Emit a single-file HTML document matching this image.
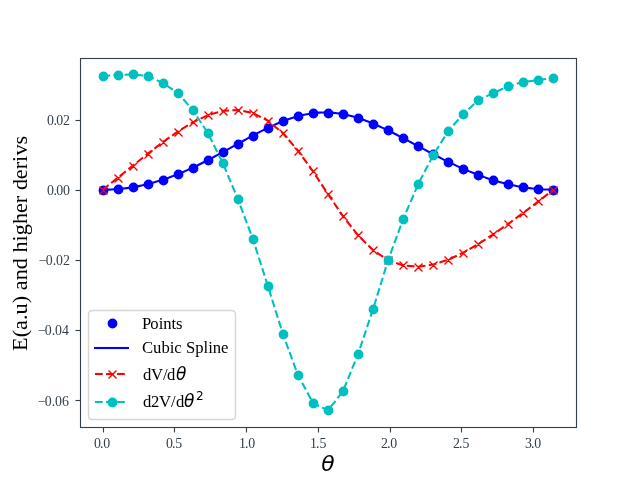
<!DOCTYPE html>
<html lang="en"><head><meta charset="utf-8"><title>E(a.u) and higher derivs</title>
<style>html,body{margin:0;padding:0;background:#fff;overflow:hidden}svg{display:block}</style>
</head><body>
<svg width="640" height="480" viewBox="0 0 640 480" role="img" aria-label="Plot of E(a.u) and higher derivs against theta">
<rect width="640" height="480" fill="#fff"/>
<defs><clipPath id="ax"><rect x="80" y="57.6" width="496" height="369.6"/></clipPath></defs>
<g clip-path="url(#ax)">
<g fill="#0000ff" stroke="#0000ff" stroke-width="1.389">
<circle cx="103.5" cy="190.5" r="4.212"/>
<circle cx="118.5" cy="189.5" r="4.212"/>
<circle cx="133.5" cy="187.5" r="4.212"/>
<circle cx="148.5" cy="184.5" r="4.212"/>
<circle cx="163.5" cy="180.5" r="4.212"/>
<circle cx="178.5" cy="174.5" r="4.212"/>
<circle cx="193.5" cy="168.5" r="4.212"/>
<circle cx="208.5" cy="160.5" r="4.212"/>
<circle cx="223.5" cy="152.5" r="4.212"/>
<circle cx="238.5" cy="144.5" r="4.212"/>
<circle cx="253.5" cy="136.5" r="4.212"/>
<circle cx="268.5" cy="128.5" r="4.212"/>
<circle cx="283.5" cy="121.5" r="4.212"/>
<circle cx="298.5" cy="116.5" r="4.212"/>
<circle cx="313.5" cy="113.5" r="4.212"/>
<circle cx="328.5" cy="113.5" r="4.212"/>
<circle cx="343.5" cy="114.5" r="4.212"/>
<circle cx="358.5" cy="118.5" r="4.212"/>
<circle cx="373.5" cy="124.5" r="4.212"/>
<circle cx="388.5" cy="130.5" r="4.212"/>
<circle cx="403.5" cy="138.5" r="4.212"/>
<circle cx="418.5" cy="146.5" r="4.212"/>
<circle cx="433.5" cy="154.5" r="4.212"/>
<circle cx="448.5" cy="162.5" r="4.212"/>
<circle cx="463.5" cy="169.5" r="4.212"/>
<circle cx="478.5" cy="175.5" r="4.212"/>
<circle cx="493.5" cy="180.5" r="4.212"/>
<circle cx="508.5" cy="184.5" r="4.212"/>
<circle cx="523.5" cy="187.5" r="4.212"/>
<circle cx="538.5" cy="189.5" r="4.212"/>
<circle cx="553.5" cy="190.5" r="4.212"/>
</g>
<path d="M102.55 189.70L105.55 189.68L108.56 189.61L111.56 189.49L114.57 189.31L117.58 189.09L120.58 188.82L123.59 188.50L126.59 188.12L129.60 187.70L132.61 187.22L135.61 186.70L138.62 186.12L141.62 185.50L144.63 184.82L147.64 184.10L150.64 183.32L153.65 182.50L156.65 181.62L159.66 180.70L162.67 179.73L165.67 178.72L168.68 177.66L171.68 176.55L174.69 175.40L177.70 174.20L180.70 172.97L183.71 171.69L186.72 170.37L189.72 169.02L192.73 167.63L195.73 166.20L198.74 164.74L201.75 163.25L204.75 161.73L207.76 160.19L210.76 158.62L213.77 157.02L216.78 155.41L219.78 153.78L222.79 152.14L225.79 150.48L228.80 148.82L231.81 147.15L234.81 145.48L237.82 143.81L240.82 142.14L243.83 140.48L246.84 138.84L249.84 137.20L252.85 135.59L255.85 133.99L258.86 132.43L261.87 130.89L264.87 129.39L267.88 127.92L270.88 126.50L273.89 125.12L276.90 123.79L279.90 122.52L282.91 121.31L285.92 120.16L288.92 119.08L291.93 118.07L294.93 117.13L297.94 116.27L300.95 115.49L303.95 114.80L306.96 114.19L309.96 113.67L312.97 113.24L315.98 112.90L318.98 112.66L321.99 112.52L324.99 112.46L328.00 112.51L331.01 112.65L334.01 112.89L337.02 113.22L340.02 113.64L343.03 114.15L346.04 114.75L349.04 115.44L352.05 116.20L355.05 117.05L358.06 117.97L361.07 118.96L364.07 120.02L367.08 121.15L370.08 122.33L373.09 123.58L376.10 124.87L379.10 126.21L382.11 127.60L385.12 129.02L388.12 130.48L391.13 131.98L394.13 133.49L397.14 135.04L400.15 136.60L403.15 138.18L406.16 139.77L409.16 141.37L412.17 142.98L415.18 144.60L418.18 146.21L421.19 147.82L424.19 149.43L427.20 151.03L430.21 152.61L433.21 154.19L436.22 155.75L439.22 157.29L442.23 158.82L445.24 160.32L448.24 161.80L451.25 163.25L454.25 164.68L457.26 166.08L460.27 167.44L463.27 168.78L466.28 170.08L469.28 171.35L472.29 172.58L475.30 173.78L478.30 174.94L481.31 176.05L484.32 177.13L487.32 178.17L490.33 179.17L493.33 180.12L496.34 181.04L499.35 181.90L502.35 182.73L505.36 183.51L508.36 184.25L511.37 184.94L514.38 185.59L517.38 186.19L520.39 186.74L523.39 187.24L526.40 187.70L529.41 188.12L532.41 188.48L535.42 188.80L538.42 189.06L541.43 189.28L544.44 189.46L547.44 189.58L550.45 189.65L553.45 189.68" fill="none" stroke="#0000ff" stroke-width="2.083" stroke-linejoin="round" stroke-linecap="square"/>
<path d="M102.55 189.82L117.58 177.86L132.61 165.82L147.64 153.83L162.67 142.29L177.70 131.63L192.73 122.39L207.76 115.25L222.79 110.89L237.82 109.98L252.85 113.05L267.88 120.67L282.91 133.27L297.94 150.53L312.97 171.40L328.00 194.13L343.03 216.23L358.06 235.38L373.09 250.24L388.12 260.18L403.15 265.41L418.18 266.67L433.21 264.57L448.24 259.69L463.27 252.66L478.30 244.01L493.33 234.26L508.36 223.77L523.39 212.71L538.42 201.33L553.45 189.74" fill="none" stroke="#ff0000" stroke-width="2.083" stroke-linejoin="round" stroke-dasharray="7.7083 3.3333"/>
<path d="M99.5 186.5l8 8m0 -8l-8 8M114.5 174.5l8 8m0 -8l-8 8M129.5 162.5l8 8m0 -8l-8 8M144.5 150.5l8 8m0 -8l-8 8M159.5 138.5l8 8m0 -8l-8 8M174.5 128.5l8 8m0 -8l-8 8M189.5 118.5l8 8m0 -8l-8 8M204.5 111.5l8 8m0 -8l-8 8M219.5 107.5l8 8m0 -8l-8 8M234.5 106.5l8 8m0 -8l-8 8M249.5 109.5l8 8m0 -8l-8 8M264.5 117.5l8 8m0 -8l-8 8M279.5 129.5l8 8m0 -8l-8 8M294.5 147.5l8 8m0 -8l-8 8M309.5 167.5l8 8m0 -8l-8 8M324.5 190.5l8 8m0 -8l-8 8M339.5 212.5l8 8m0 -8l-8 8M354.5 231.5l8 8m0 -8l-8 8M369.5 246.5l8 8m0 -8l-8 8M384.5 256.5l8 8m0 -8l-8 8M399.5 261.5l8 8m0 -8l-8 8M414.5 263.5l8 8m0 -8l-8 8M429.5 261.5l8 8m0 -8l-8 8M444.5 256.5l8 8m0 -8l-8 8M459.5 249.5l8 8m0 -8l-8 8M474.5 240.5l8 8m0 -8l-8 8M489.5 230.5l8 8m0 -8l-8 8M504.5 220.5l8 8m0 -8l-8 8M519.5 209.5l8 8m0 -8l-8 8M534.5 197.5l8 8m0 -8l-8 8M549.5 186.5l8 8m0 -8l-8 8" fill="none" stroke="#ff0000" stroke-width="1.389"/>
<path d="M102.55 75.99L117.58 74.98L132.61 74.40L147.64 75.94L162.67 82.95L177.70 92.94L192.73 109.95L207.76 132.98L222.79 162.99L237.82 198.99L252.85 238.99L267.88 285.98L282.91 333.98L297.94 374.98L312.97 402.98L328.00 410.40L343.03 391.03L358.06 354.06L373.09 309.10L388.12 260.12L403.15 219.14L418.18 184.15L433.21 155.11L448.24 131.07L463.27 114.03L478.30 100.02L493.33 93.04L508.36 86.04L523.39 82.01L538.42 80.01L553.45 78.01" fill="none" stroke="#00bfbf" stroke-width="2.083" stroke-linejoin="round" stroke-dasharray="7.7083 3.3333"/>
<g fill="#00bfbf" stroke="#00bfbf" stroke-width="1.389">
<circle cx="103.5" cy="76.5" r="4.212"/>
<circle cx="118.5" cy="75.5" r="4.212"/>
<circle cx="133.5" cy="74.5" r="4.212"/>
<circle cx="148.5" cy="76.5" r="4.212"/>
<circle cx="163.5" cy="83.5" r="4.212"/>
<circle cx="178.5" cy="93.5" r="4.212"/>
<circle cx="193.5" cy="110.5" r="4.212"/>
<circle cx="208.5" cy="133.5" r="4.212"/>
<circle cx="223.5" cy="163.5" r="4.212"/>
<circle cx="238.5" cy="199.5" r="4.212"/>
<circle cx="253.5" cy="239.5" r="4.212"/>
<circle cx="268.5" cy="286.5" r="4.212"/>
<circle cx="283.5" cy="334.5" r="4.212"/>
<circle cx="298.5" cy="375.5" r="4.212"/>
<circle cx="313.5" cy="403.5" r="4.212"/>
<circle cx="328.5" cy="410.5" r="4.212"/>
<circle cx="343.5" cy="391.5" r="4.212"/>
<circle cx="358.5" cy="354.5" r="4.212"/>
<circle cx="373.5" cy="309.5" r="4.212"/>
<circle cx="388.5" cy="260.5" r="4.212"/>
<circle cx="403.5" cy="219.5" r="4.212"/>
<circle cx="418.5" cy="184.5" r="4.212"/>
<circle cx="433.5" cy="155.5" r="4.212"/>
<circle cx="448.5" cy="131.5" r="4.212"/>
<circle cx="463.5" cy="114.5" r="4.212"/>
<circle cx="478.5" cy="100.5" r="4.212"/>
<circle cx="493.5" cy="93.5" r="4.212"/>
<circle cx="508.5" cy="86.5" r="4.212"/>
<circle cx="523.5" cy="82.5" r="4.212"/>
<circle cx="538.5" cy="80.5" r="4.212"/>
<circle cx="553.5" cy="78.5" r="4.212"/>
</g>
</g>
<g fill="none" stroke="#333f4b">
<path d="M79.95 58.5H577.05M79.95 427.5H577.05M80.5 120.5h-5M80.5 190.5h-5M80.5 260.5h-5M80.5 330.5h-5M80.5 400.5h-5" stroke-width="3" stroke-opacity="0.0556"/>
<path d="M103.5 427.5v5M174.5 427.5v5M246.5 427.5v5M318.5 427.5v5M390.5 427.5v5M461.5 427.5v5M533.5 427.5v5M80.5 120.5h-5M80.5 190.5h-5M80.5 260.5h-5M80.5 330.5h-5M80.5 400.5h-5" stroke-width="1.111"/>
<path d="M80.5 427.5V58.5M576.5 427.5V58.5M80.5 427.5H576.5M80.5 58.5H576.5" stroke-width="1.111" stroke-linecap="square"/>
</g>
<text font-family="'Liberation Serif', serif" font-size="13.889" fill="#333f4b"><tspan x="94 100.12 103.25" y="448">0.0</tspan></text>
<text font-family="'Liberation Serif', serif" font-size="13.889" fill="#333f4b"><tspan x="166 172.12 175.25" y="448">0.5</tspan></text>
<text font-family="'Liberation Serif', serif" font-size="13.889" fill="#333f4b"><tspan x="239 244.88 248.25" y="448">1.0</tspan></text>
<text font-family="'Liberation Serif', serif" font-size="13.889" fill="#333f4b"><tspan x="310 316 319.62" y="448">1.5</tspan></text>
<text font-family="'Liberation Serif', serif" font-size="13.889" fill="#333f4b"><tspan x="380.88 387.12 390.25" y="448">2.0</tspan></text>
<text font-family="'Liberation Serif', serif" font-size="13.889" fill="#333f4b"><tspan x="453 459 462.62" y="448">2.5</tspan></text>
<text font-family="'Liberation Serif', serif" font-size="13.889" fill="#333f4b"><tspan x="525 531.12 534.25" y="448">3.0</tspan></text>
<text font-family="'Liberation Serif', serif" font-size="13.889" fill="#333f4b"><tspan x="47 53.62 56.25 63.12" y="125">0.02</tspan></text>
<text font-family="'Liberation Serif', serif" font-size="13.889" fill="#333f4b"><tspan x="47 53.62 56.25 63.12" y="195">0.00</tspan></text>
<text font-family="'Liberation Serif', serif" font-size="13.889" fill="#333f4b"><tspan x="38.75 45.75 52.75 56.12 63" y="265">−0.02</tspan></text>
<text font-family="'Liberation Serif', serif" font-size="13.889" fill="#333f4b"><tspan x="37.75 44.75 51.75 55.12 62" y="335">−0.04</tspan></text>
<text font-family="'Liberation Serif', serif" font-size="13.889" fill="#333f4b"><tspan x="37.75 44.75 51.75 55.12 62" y="406">−0.06</tspan></text>
<text transform="translate(27 350) rotate(-90) scale(1 0.98)" font-family="'Liberation Serif', serif" font-size="22.222" fill="#000"><tspan x="-1.12 12.75 20 30.12 35.5 46.75 54.12 59.75 69.88 80.75 92.75 97.62 108.5 114.75 126.12 137 146.88 154.25 160.12 170.88 180.75 188.12 194.62 205.5" y="0">E(a.u) and higher derivs</tspan></text>
<text font-family="'Liberation Serif', serif" font-size="22.222" fill="#000"><tspan x="321.25" y="471" font-family="'DejaVu Sans', sans-serif" font-style="italic" font-size="21.778">θ</tspan></text>
<path d="M92.5 419.5H231.5Q235.5 419.5 235.5 415.5V314.5Q235.5 310.5 231.5 310.5H92.5Q88.5 310.5 88.5 314.5V415.5Q88.5 419.5 92.5 419.5Z" fill="#fff" fill-opacity="0.8" stroke="#ccc" stroke-opacity="0.8" stroke-width="1.389" stroke-linejoin="round"/>
<circle cx="112.5" cy="323.5" r="4.212" fill="#00f" stroke="#00f" stroke-width="1.389"/>
<path d="M93.96 348H129.04" stroke="#00f" stroke-width="4" stroke-opacity="0.043"/>
<path d="M95 348H128" stroke="#00f" stroke-width="2.083" stroke-linecap="square"/>
<path d="M95 374H128" stroke="#f00" stroke-width="4" stroke-opacity="0.043" stroke-dasharray="7.7083 3.3333"/>
<path d="M95 374H128" stroke="#f00" stroke-width="2.083" stroke-dasharray="7.7083 3.3333"/>
<path d="M108.5 370.5l8 8m0 -8l-8 8" stroke="#f00" stroke-width="1.389"/>
<path d="M95 402H128" stroke="#00bfbf" stroke-width="4" stroke-opacity="0.043" stroke-dasharray="7.7083 3.3333"/>
<path d="M95 402H128" stroke="#00bfbf" stroke-width="2.083" stroke-dasharray="7.7083 3.3333"/>
<circle cx="112.5" cy="402.5" r="4.212" fill="#00bfbf" stroke="#00bfbf" stroke-width="1.389"/>
<text font-family="'Liberation Serif', serif" font-size="16.667" fill="#000"><tspan x="142 150.25 158.75 163.25 171.5 175.88" y="329">Points</tspan></text>
<text font-family="'Liberation Serif', serif" font-size="16.667" fill="#000"><tspan x="142 153 161.38 169.75 174.25 181.75 186 195.25 203.62 208.25 212.75 221" y="353">Cubic Spline</tspan></text>
<text font-family="'Liberation Serif', serif" font-size="16.667" fill="#000"><tspan x="143 151 163 167" y="380">dV/d</tspan><tspan x="176" y="380" font-family="'DejaVu Sans', sans-serif" font-style="italic" font-size="17.000">θ</tspan></text>
<text font-family="'Liberation Serif', serif" font-size="16.667" fill="#000"><tspan x="143 151 159 170.88 176" y="407">d2V/d</tspan><tspan x="184" y="407" font-family="'DejaVu Sans', sans-serif" font-style="italic" font-size="17.000">θ</tspan><tspan x="196" y="400" font-family="'DejaVu Sans', sans-serif" font-size="12.000">2</tspan></text>
</svg>
</body></html>
